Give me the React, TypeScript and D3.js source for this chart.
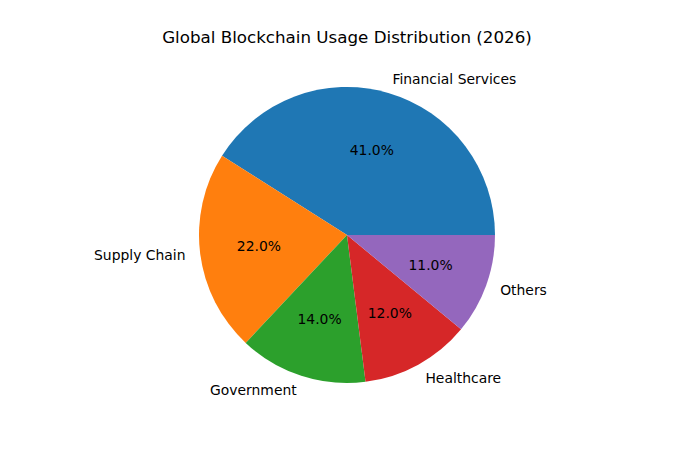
import { useEffect, useRef } from 'react';
import * as d3 from 'd3';

const categories = ['Financial Services', 'Supply Chain', 'Government', 'Healthcare', 'Others'];
const shares = [41, 22, 14, 12, 11];
const colors = ['#1f77b4', '#ff7f0e', '#2ca02c', '#d62728', '#9467bd'];
const title = 'Global Blockchain Usage Distribution (2026)';

interface Slice {
  label: string;
  value: number;
  color: string;
}

export default function App() {
  const svgRef = useRef<SVGSVGElement>(null);

  useEffect(() => {
    if (!svgRef.current) return;
    const svg = d3.select(svgRef.current);
    svg.selectAll('*').remove();

    const width = 700;
    const height = 450;
    const cx = 347;
    const cy = 235;
    const radius = 148;
    const font = 'DejaVu Sans, sans-serif';

    const data: Slice[] = categories.map((c, i) => ({ label: c, value: shares[i], color: colors[i] }));

    svg.attr('width', width).attr('height', height);
    svg.append('rect').attr('width', width).attr('height', height).attr('fill', '#ffffff');

    // matplotlib starts at 3 o'clock and runs counterclockwise
    const pie = d3
      .pie<Slice>()
      .value((d) => d.value)
      .sort(null)
      .startAngle(Math.PI / 2)
      .endAngle(Math.PI / 2 - 2 * Math.PI);

    const arc = d3.arc<d3.PieArcDatum<Slice>>().innerRadius(0).outerRadius(radius);
    const total = d3.sum(data, (d) => d.value);

    const g = svg.append('g').attr('transform', `translate(${cx}, ${cy})`);
    const arcs = pie(data);

    g.selectAll('path')
      .data(arcs)
      .enter()
      .append('path')
      .attr('d', (d) => arc(d) || '')
      .attr('fill', (d) => d.data.color);

    arcs.forEach((d) => {
      const mid = (d.startAngle + d.endAngle) / 2;
      // d3 angle is clockwise from 12 o'clock
      const x = Math.sin(mid);
      const y = -Math.cos(mid);

      g.append('text')
        .attr('x', 1.1 * radius * x)
        .attr('y', 1.1 * radius * y)
        .attr('dy', '0.35em')
        .attr('text-anchor', x > 0 ? 'start' : 'end')
        .attr('font-family', font)
        .attr('font-size', '13.9px')
        .attr('fill', '#000')
        .text(d.data.label);

      g.append('text')
        .attr('x', 0.6 * radius * x)
        .attr('y', 0.6 * radius * y)
        .attr('dy', '0.35em')
        .attr('text-anchor', 'middle')
        .attr('font-family', font)
        .attr('font-size', '13.9px')
        .attr('fill', '#000')
        .text(`${((d.data.value / total) * 100).toFixed(1)}%`);
    });

    svg
      .append('text')
      .attr('x', cx)
      .attr('y', 37)
      .attr('dy', '0.35em')
      .attr('text-anchor', 'middle')
      .attr('font-family', font)
      .attr('font-size', '16.7px')
      .attr('fill', '#000')
      .text(title);
  }, []);

  return (
    <div style={{ position: 'fixed', left: 0, top: 0, width: 700, height: 450, background: '#fff' }}>
      <svg ref={svgRef} style={{ display: 'block' }} />
    </div>
  );
}
